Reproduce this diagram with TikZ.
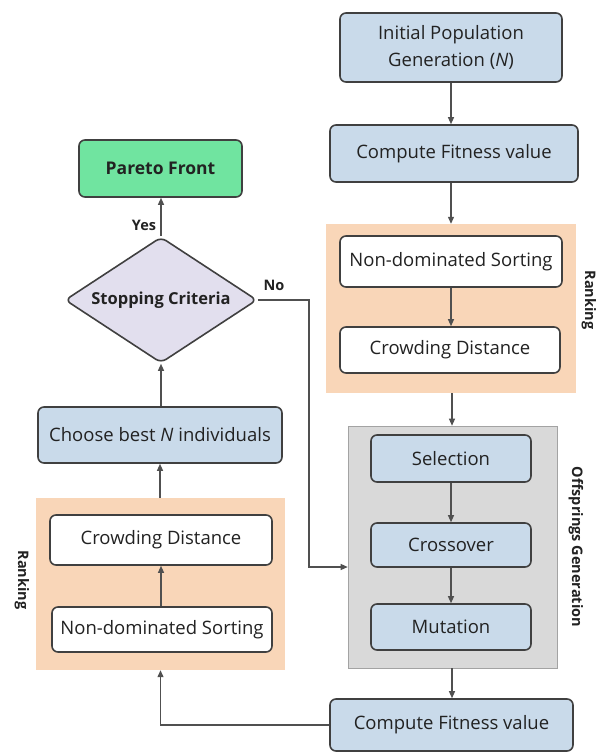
\documentclass[tikz,border=0pt]{standalone}
\usepackage{fontspec}
\setmainfont{Open Sans}
\definecolor{boxblue}{RGB}{201, 218, 234}
\definecolor{rankorange}{RGB}{249, 214, 184}
\definecolor{offgrey}{RGB}{217, 217, 217}
\definecolor{paretogreen}{RGB}{112, 228, 160}
\definecolor{critlilac}{RGB}{226, 223, 238}
\definecolor{edgegrey}{RGB}{64, 64, 64}
\definecolor{linegrey}{RGB}{80, 80, 80}
\definecolor{textgrey}{RGB}{34, 34, 34}
\usetikzlibrary{shapes.geometric, arrows.meta, positioning, calc}

\begin{document}
\begin{tikzpicture}[x=1pt, y=-1pt,
  procbox/.style={draw=edgegrey, line width=1.6pt, fill=boxblue, rounded corners=6pt, align=center, inner sep=0pt, text=textgrey, font=\fontsize{18.5}{27}\selectfont},
  inbox/.style={procbox, fill=white},
  groupbox/.style={draw=none, inner sep=0pt},
  lbl/.style={text=textgrey, font=\fontsize{14.5}{17}\selectfont\bfseries},
  flow/.style={-{Triangle[length=7pt, width=6pt]}, line width=1.2pt, linegrey}
]
  \useasboundingbox (0,0) rectangle (602,754);

  % Right column
  \node[procbox, minimum width=222pt, minimum height=69pt] (init) at (451, 47.5) {Initial Population\\Generation (\textit{N})};
  \node[procbox, minimum width=248pt, minimum height=57pt] (fit1) at (454, 153.5) {Compute Fitness value};

  % Ranking (right)
  \node[groupbox, fill=rankorange, minimum width=250pt, minimum height=169pt] (rank1) at (451, 308.5) {};
  \node[inbox, minimum width=222pt, minimum height=51pt] (nds1) at (451, 261.5) {Non-dominated Sorting};
  \node[inbox, minimum width=220pt, minimum height=46pt] (cd1) at (450, 350) {Crowding Distance};
  \node[lbl, rotate=-90] (rank1lbl) at (589, 300) {Ranking};

  % Offsprings generation
  \node[groupbox, fill=offgrey, draw=offgrey!75!black, line width=0.6pt, minimum width=209pt, minimum height=242pt] (offs) at (452.5, 547) {};
  \node[procbox, minimum width=160pt, minimum height=47pt] (sel) at (451, 458.5) {Selection};
  \node[procbox, minimum width=160pt, minimum height=44pt] (cross) at (451, 545) {Crossover};
  \node[procbox, minimum width=160pt, minimum height=46pt] (mut) at (451, 627) {Mutation};
  \node[lbl, rotate=-90] (offslbl) at (576, 547) {Offsprings Generation};

  \node[procbox, minimum width=243pt, minimum height=52pt] (fit2) at (451.5, 725) {Compute Fitness value};

  % Left column
  \node[procbox, fill=paretogreen, minimum width=163pt, minimum height=57pt, font=\fontsize{17.5}{21}\selectfont\bfseries] (pareto) at (160.5, 168.5) {Pareto Front};
  \node[diamond, aspect=1.52, draw=edgegrey, line width=1.6pt, fill=critlilac, rounded corners=6pt, inner sep=0pt, minimum width=192pt, minimum height=126pt, text=textgrey, font=\fontsize{16.5}{19}\selectfont\bfseries] (stop) at (161, 300) {Stopping Criteria};
  \node[procbox, minimum width=244pt, minimum height=56pt] (choose) at (160, 435) {Choose best \textit{N} individuals};

  % Ranking (left)
  \node[groupbox, fill=rankorange, minimum width=249pt, minimum height=172pt] (rank2) at (160.5, 584) {};
  \node[inbox, minimum width=222pt, minimum height=50pt] (cd2) at (161, 540) {Crowding Distance};
  \node[inbox, minimum width=220pt, minimum height=45pt] (nds2) at (162, 629.5) {Non-dominated Sorting};
  \node[lbl, rotate=-90] (rank2lbl) at (22, 580) {Ranking};

  % Connectors
  \draw[flow] (init) -- (init |- fit1.north);
  \draw[flow] (fit1.south -| rank1.north) -- (rank1.north);
  \draw[flow] (nds1.south -| 451,0) -- (cd1.north -| 451,0);
  \draw[flow] (rank1.south -| 452,0) -- (offs.north -| 452,0);
  \draw[flow] (sel) -- (cross);
  \draw[flow] (cross) -- (mut);
  \draw[flow] (offs.south -| 452,0) -- (fit2.north -| 452,0);
  \draw[flow] (fit2.west) -| (rank2.south);
  \draw[flow] (nds2.north -| cd2.south) -- (cd2.south);
  \draw[flow] (rank2.north -| choose.south) -- (choose.south);
  \draw[flow] (choose.north -| stop.south) -- (stop.south);
  \draw[flow] (stop.north) -- node[lbl, pos=0.28, left=1pt] (yes) {Yes} (stop.north |- pareto.south);
  \coordinate (nobend) at (309, 567);
  \draw[flow] (stop.east) -| (nobend) -- (nobend -| offs.west);
  \node[lbl] (no) at (274, 285) {No};
\end{tikzpicture}
\end{document}
